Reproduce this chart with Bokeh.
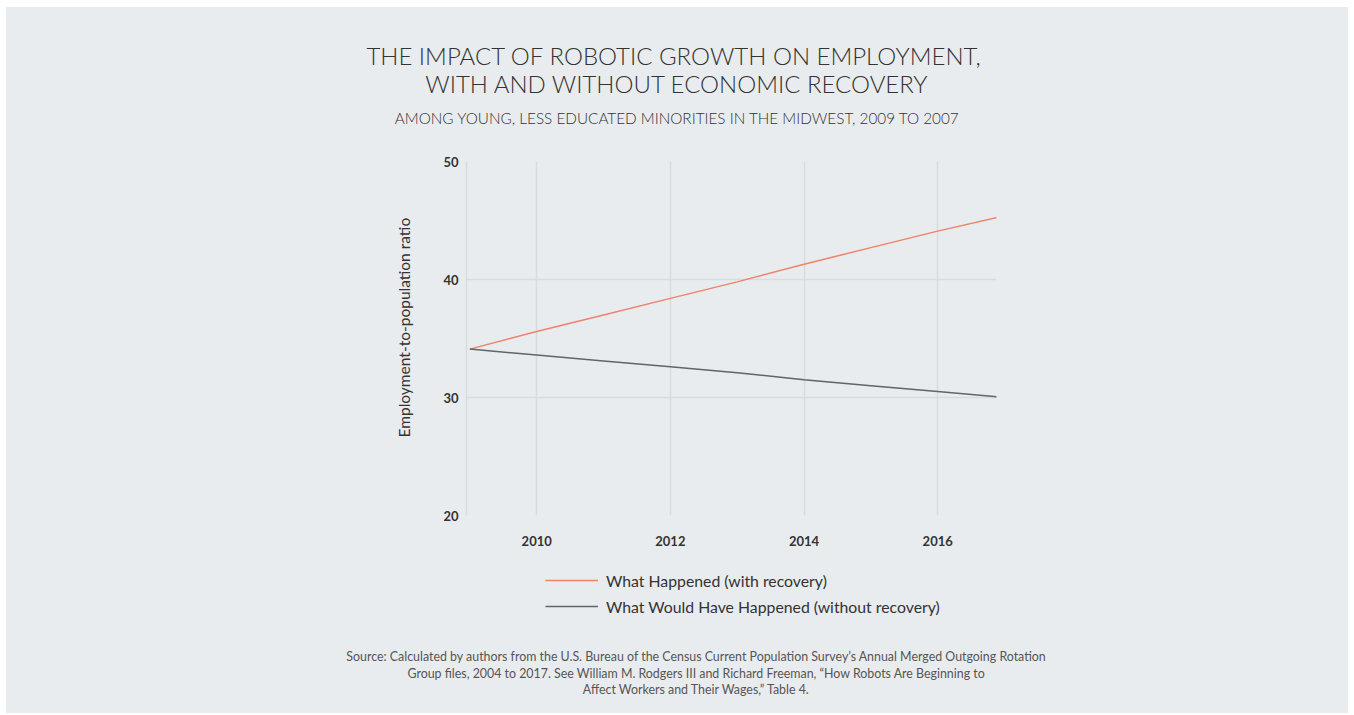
from bokeh.plotting import figure
from bokeh.layouts import column
from bokeh.models import Legend, LegendItem, FixedTicker, Range1d, Title
from bokeh.core.properties import value
from bokeh.embed import file_html
from bokeh.resources import INLINE

# ---- data ----
years = [2009, 2010, 2011, 2012, 2013, 2014, 2015, 2016, 2017]
with_recovery = [34.1, 35.6, 37.0, 38.4, 39.8, 41.3, 42.7, 44.1, 45.4]
without_recovery = [34.1, 33.6, 33.1, 32.6, 32.1, 31.5, 31.0, 30.5, 30.0]
x_ticks = [2010, 2012, 2014, 2016]
y_ticks = [20, 30, 40, 50]
series_names = ["What Happened (with recovery)",
                "What Would Have Happened (without recovery)"]
title_lines = ["THE  IMPACT OF ROBOTIC GROWTH ON EMPLOYMENT,",
               "WITH AND WITHOUT ECONOMIC RECOVERY"]
subtitle = "AMONG YOUNG, LESS EDUCATED MINORITIES IN THE MIDWEST, 2009 TO 2007"
y_label = "Employment-to-population ratio"
source_lines = [
    "Source: Calculated by authors from the U.S. Bureau of the Census Current Population Survey\u2019s Annual Merged Outgoing Rotation",
    "Group files, 2004 to 2017. See William M. Rodgers III and Richard Freeman, \u201cHow Robots Are Beginning to",
    "Affect Workers and Their Wages,\u201d Table 4.",
]

BG = "#e9ecee"
GRID = "#d9dcdd"
ORANGE = "#f0826a"
GRAY = "#60656a"
TXT = "#333333"
TITLE_FONT = "Lato Light, Lato"

W = 1342
HH, CH, FH_ = 130, 423, 153


def blank(height):
    f = figure(width=W, height=height, x_range=Range1d(0, W),
               y_range=Range1d(height, 0), output_backend="svg",
               toolbar_location=None, x_axis_location=None,
               y_axis_location=None, min_border=0,
               background_fill_color=BG, border_fill_color=BG,
               outline_line_color=None)
    f.frame_align = False
    f.xgrid.visible = False
    f.ygrid.visible = False
    return f


# ---- header ----
head = blank(HH)
head.text(x=[671, 671], y=[48, 76], text=title_lines, text_align="center",
          text_baseline="alphabetic", text_font=value(TITLE_FONT),
          text_font_size="24px", text_color=TXT)
head.text(x=[671], y=[110], text=[subtitle], text_align="center",
          text_baseline="alphabetic", text_font=value(TITLE_FONT),
          text_font_size="15.3px", text_color=TXT)

# ---- chart ----
FL, FT, FW, FHt = 460, 24, 530, 354
p = figure(width=W, height=CH,
           x_range=Range1d(2008.95, 2016.88), y_range=Range1d(20, 50),
           output_backend="svg", toolbar_location=None,
           min_border_left=FL, min_border_right=W - FL - FW,
           min_border_top=FT, min_border_bottom=CH - FT - FHt,
           background_fill_color=BG, border_fill_color=BG,
           outline_line_color=None)
p.frame_align = False

p.line(years, with_recovery, line_color=ORANGE, line_width=1.5)
p.line(years, without_recovery, line_color=GRAY, line_width=1.5)

p.xaxis.ticker = FixedTicker(ticks=x_ticks)
p.yaxis.ticker = FixedTicker(ticks=y_ticks)
for ax in (p.xaxis, p.yaxis):
    ax.axis_line_color = None
    ax.major_tick_line_color = None
    ax.minor_tick_line_color = None
    ax.major_tick_out = 0
    ax.major_tick_in = 0
    ax.minor_tick_out = 0
    ax.major_label_text_font = "Lato"
    ax.major_label_text_font_style = "bold"
    ax.major_label_text_font_size = "13px"
    ax.major_label_text_color = TXT
p.yaxis.axis_line_color = GRID
p.yaxis.axis_line_width = 1.5
p.xaxis.major_label_standoff = 20
p.yaxis.major_label_standoff = 8

ytitle = Title(text=y_label, align="left", offset=78, vertical_align="middle",
               standoff=54, text_font="Lato", text_font_style="normal",
               text_font_size="15.5px", text_color=TXT)
p.add_layout(ytitle, "left")

p.xgrid.grid_line_color = GRID
p.ygrid.grid_line_color = GRID
p.xgrid.grid_line_width = 1.5
p.ygrid.grid_line_width = 1.5

# ---- footer (legend + source) ----
foot = blank(FH_)
# legend keys: same styles as the chart lines, data kept outside the view
l1 = foot.line([-20, -10], [-20, -10], line_color=ORANGE, line_width=1.5)
l2 = foot.line([-20, -10], [-20, -10], line_color=GRAY, line_width=1.5)
legend = Legend(items=[LegendItem(label=series_names[0], renderers=[l1]),
                       LegendItem(label=series_names[1], renderers=[l2])],
                location=(539, 97))
legend.background_fill_alpha = 0
legend.border_line_color = None
legend.padding = 0
legend.margin = 0
legend.spacing = 6
legend.glyph_width = 53
legend.glyph_height = 20
legend.label_height = 20
legend.label_standoff = 8
legend.label_text_font = "Lato"
legend.label_text_font_size = "15.8px"
legend.label_text_color = TXT
foot.add_layout(legend, "center")

foot.text(x=[690, 690, 690], y=[95.5, 112.5, 128.5], text=source_lines,
          text_align="center", text_baseline="alphabetic",
          text_font=value("Lato"), text_font_size="12.4px",
          text_color="#555555")

layout = column(head, p, foot, spacing=0)
layout.margin = (7, 6, 2, 6)
layout.styles = {"background-color": BG}

open("out.html", "w").write(file_html(layout, INLINE))
